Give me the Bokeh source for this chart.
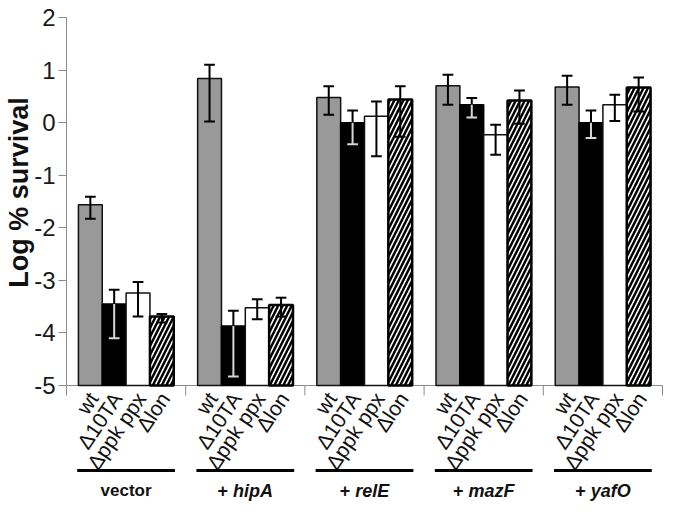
import numpy as np
from math import pi, radians
from bokeh.plotting import figure
from bokeh.models import Range1d, FixedTicker
from bokeh.core.properties import value
from bokeh.embed import file_html
from bokeh.resources import INLINE

# ---------------- data ----------------
groups = ["vector", "hipA", "relE", "mazF", "yafO"]
strains = ["wt", "Δ10TA", "Δppk ppx", "Δlon"]

wt = [-1.56, 0.84, 0.48, 0.70, 0.68]
wt_hi = [-1.41, 1.10, 0.69, 0.91, 0.89]
wt_lo = [-1.83, 0.02, 0.15, 0.34, 0.34]

ta = [-3.45, -3.87, 0.00, 0.34, 0.00]
ta_hi = [-3.18, -3.58, 0.23, 0.47, 0.23]
ta_lo = [-4.10, -4.83, -0.41, 0.10, -0.29]

ppk = [-3.24, -3.52, 0.12, -0.23, 0.34]
ppk_hi = [-3.03, -3.36, 0.40, -0.04, 0.53]
ppk_lo = [-3.69, -3.74, -0.64, -0.61, 0.03]

lon = [-3.69, -3.47, 0.44, 0.42, 0.67]
lon_hi = [-3.64, -3.33, 0.69, 0.61, 0.86]
lon_lo = [-3.80, -3.69, -0.27, -0.02, 0.21]

y_ticks = [-5, -4, -3, -2, -1, 0, 1, 2]
y_min, y_max = -5, 2

# ---------------- figure ----------------
W, H = 664, 502
top_px, left_px, right_px = 17, 66, 2
ppu = 52.57  # pixels per y unit
y_end = y_max + top_px / ppu
y_start = y_end - H / ppu
n = len(groups)
xpu = (W - left_px - right_px) / n
x_start = -left_px / xpu
x_end = n + right_px / xpu

def ypx(py):
    return y_end - py / ppu

def xpx(px):
    return x_start + px / xpu

p = figure(width=W, height=H, output_backend="svg", toolbar_location=None,
           x_range=Range1d(x_start, x_end), y_range=Range1d(y_start, y_end),
           x_axis_location=None, min_border_left=0, min_border_right=0,
           min_border_top=0, min_border_bottom=0)
p.outline_line_color = None
p.grid.visible = False
p.background_fill_color = "white"
p.border_fill_color = "white"

ax = p.yaxis[0]
ax.fixed_location = 0
ax.ticker = FixedTicker(ticks=y_ticks)
ax.major_label_overrides = {t: str(t) for t in y_ticks}
ax.bounds = (y_min, y_max)
ax.axis_line_color = "#8a8a8a"
ax.major_tick_line_color = "#8a8a8a"
ax.major_tick_out = 8
ax.major_tick_in = 0
ax.minor_tick_line_color = None
ax.major_label_text_font = "Liberation Sans"
ax.major_label_text_font_size = "24px"
ax.major_label_text_color = "#1a1a1a"
ax.major_label_standoff = 3

series = [
    (wt, wt_hi, wt_lo, dict(fill_color="#999999", line_color="#111111", line_width=1.5)),
    (ta, ta_hi, ta_lo, dict(fill_color="#000000", line_color="#000000", line_width=1.5)),
    (ppk, ppk_hi, ppk_lo, dict(fill_color="#ffffff", line_color="#111111", line_width=1.5)),
    (lon, lon_hi, lon_lo, dict(fill_color="#ffffff", line_color="#000000", line_width=2.5,
                               hatch_pattern="/", hatch_color="#000000",
                               hatch_weight=2.5, hatch_scale=9)),
]
bw = 1.0 / (len(strains) + 1)
cap = 0.045
gidx = np.arange(n)

# baseline and group separators
p.segment(x0=[0], y0=[y_min], x1=[n], y1=[y_min], line_color="#8a8a8a", line_width=1)
sep = np.arange(n + 1)
p.segment(x0=sep, y0=[y_min] * (n + 1), x1=sep, y1=[y_min - 10 / ppu] * (n + 1),
          line_color="#8a8a8a", line_width=1)

for k, (vals, hi, lo, style) in enumerate(series):
    xs = gidx + bw * (k + 1)
    vals = np.array(vals); hi = np.array(hi); lo = np.array(lo)
    p.vbar(x=xs, top=vals, bottom=y_min, width=bw, **style)
    if k == 1:
        top_in = np.minimum(vals, hi)
        p.segment(x0=xs, y0=top_in, x1=xs, y1=hi, line_color="black", line_width=2)
        p.segment(x0=xs - cap, y0=hi, x1=xs + cap, y1=hi, line_color="black", line_width=2)
        p.segment(x0=xs, y0=lo, x1=xs, y1=top_in, line_color="#d6d6d6", line_width=2)
        p.segment(x0=xs - cap, y0=lo, x1=xs + cap, y1=lo, line_color="#d6d6d6", line_width=2)
    else:
        p.segment(x0=xs, y0=lo, x1=xs, y1=hi, line_color="black", line_width=2)
        p.segment(x0=xs - cap, y0=hi, x1=xs + cap, y1=hi, line_color="black", line_width=2)
        p.segment(x0=xs - cap, y0=lo, x1=xs + cap, y1=lo, line_color="black", line_width=2)

    p.text(x=xs + 3 / xpu, y=[y_min - 9 / ppu] * n, text=[strains[k]] * n,
           angle=radians(56), text_align="right", text_baseline="middle",
           text_font=value("Liberation Sans"), text_font_size="21px", text_color="#111111")

# group underlines
u_y = ypx(470)
p.segment(x0=gidx + 0.09, y0=[u_y] * n, x1=gidx + 0.91, y1=[u_y] * n,
          line_color="black", line_width=3)

# group labels
fs = 18
cw = {'+': .584, ' ': .278, 'h': .611, 'i': .278, 'p': .611, 'A': .722, 'r': .389,
      'e': .556, 'l': .278, 'E': .667, 'm': .889, 'a': .556, 'z': .5, 'F': .611,
      'y': .556, 'f': .333, 'O': .778}
def tw(s):
    return sum(cw.get(ch, .6) for ch in s) * fs / xpu

g_y = ypx(490)
centers = gidx + 0.5
p.text(x=[centers[0]], y=[g_y], text=[groups[0]], text_align="center",
       text_baseline="alphabetic", text_font=value("Liberation Sans"),
       text_font_style="bold", text_font_size="17px", text_color="#111111")
plus_x, gene_x, gene_t = [], [], []
for i in range(1, n):
    total = tw("+ ") + tw(groups[i])
    left = centers[i] - total / 2
    plus_x.append(left)
    gene_x.append(left + tw("+ "))
    gene_t.append(groups[i])
p.text(x=plus_x, y=[g_y] * len(plus_x), text=["+"] * len(plus_x), text_align="left",
       text_baseline="alphabetic", text_font=value("Liberation Sans"),
       text_font_style="bold", text_font_size=f"{fs}px", text_color="#111111")
p.text(x=gene_x, y=[g_y] * len(gene_x), text=gene_t, text_align="left",
       text_baseline="alphabetic", text_font=value("Liberation Sans"),
       text_font_style="bold italic", text_font_size=f"{fs}px", text_color="#111111")

# y axis title
p.text(x=[xpx(18)], y=[ypx(192)], text=["Log % survival"],
       angle=pi / 2, text_align="center", text_baseline="middle",
       text_font=value("Liberation Sans"), text_font_style="bold", text_font_size="27px",
       text_color="#111111")

open("out.html", "w").write(file_html(p, INLINE))
